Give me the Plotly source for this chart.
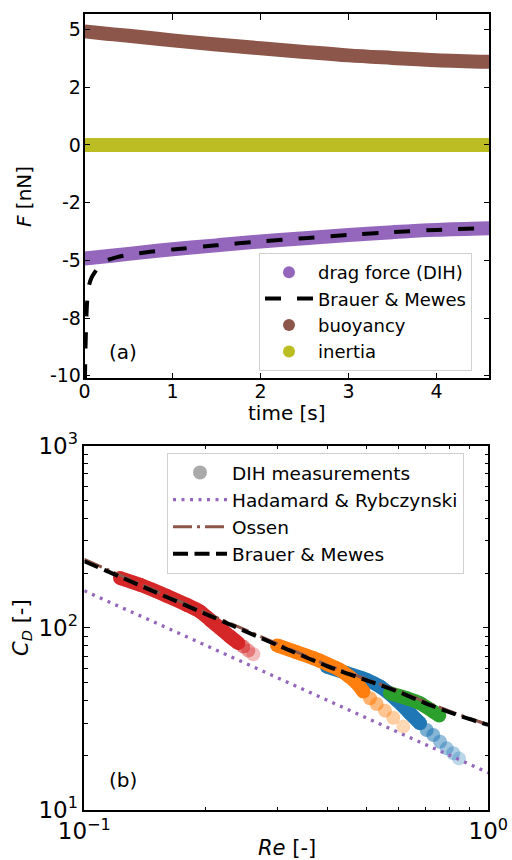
import plotly.graph_objects as go

# ---------------- Panel (a): forces vs time ----------------
time_s = [0.0, 0.25, 0.5, 1.0, 1.5, 2.0, 2.5, 3.0, 3.5, 4.0, 4.6]
buoyancy_nN = [4.92, 4.82, 4.73, 4.53, 4.35, 4.19, 4.03, 3.88, 3.77, 3.67, 3.60]
drag_nN = [-4.92, -4.82, -4.72, -4.52, -4.35, -4.18, -4.04, -3.90, -3.78, -3.68, -3.61]
inertia_nN = [0.0, 0.0, 0.0, 0.0, 0.0, 0.0, 0.0, 0.0, 0.0, 0.0, 0.0]

bm_time_s = [0.005, 0.01, 0.02, 0.03, 0.05, 0.08, 0.12, 0.18, 0.25, 0.35, 0.5,
             0.75, 1.0, 1.5, 2.0, 2.5, 3.0, 3.5, 4.0, 4.6]
bm_force_nN = [-10.2, -9.0, -7.6, -6.8, -6.1, -5.75, -5.5, -5.2, -5.0, -4.88, -4.76,
               -4.63, -4.53, -4.35, -4.18, -4.04, -3.90, -3.78, -3.68, -3.60]

f_tickvals = [5, 2.5, 0, -2.5, -5, -7.5, -10]
f_ticktext = ["5", "2", "0", "-2", "-5", "-8", "-10"]
t_tickvals = [0, 1, 2, 3, 4]

# ---------------- Panel (b): drag coefficient vs Re ----------------
red_re = [0.1226, 0.1374, 0.160, 0.1793, 0.1934, 0.2047, 0.2168, 0.2294, 0.2406]
red_cd = [187.5, 172.3, 149.9, 133.8, 122.9, 110.7, 99.6, 89.6, 82.4]
red_tail_re = [0.2475, 0.2547, 0.262]
red_tail_cd = [78.9, 75.0, 71.6]

orange_re = [0.300, 0.335, 0.369, 0.400, 0.4295, 0.4525, 0.4725, 0.4906]
orange_cd = [80.1, 73.5, 68.2, 63.2, 58.7, 54.0, 49.7, 44.7]
orange_tail_re = [0.5095, 0.5293, 0.555, 0.582, 0.616]
orange_tail_cd = [41.1, 38.2, 35.1, 32.1, 28.7]

blue_re = [0.398, 0.4462, 0.500, 0.5396, 0.5935, 0.640, 0.6776]
blue_cd = [61.3, 56.4, 51.8, 47.6, 40.2, 34.0, 29.95]
blue_tail_re = [0.704, 0.731, 0.7596, 0.789, 0.819, 0.846]
blue_tail_cd = [27.5, 25.8, 23.7, 21.8, 20.5, 19.2]

green_re = [0.571, 0.628, 0.6776, 0.731, 0.756]
green_cd = [43.8, 41.1, 38.6, 34.7, 33.0]

hr_re = [0.1, 1.0]
hr_cd = [160, 16]
model_re = [0.1, 0.15, 0.2, 0.3, 0.4, 0.5, 0.6, 0.7, 0.8, 0.9, 1.0]
ossen_cd = [238, 160, 121, 82, 62.5, 52.2, 45, 39.2, 35, 31.8, 29.4]
bm_cd = [232, 157, 119, 80.5, 61.5, 51.5, 44.5, 38.5, 34.5, 31.5, 29.3]

re_tickvals = [0.1, 1]
re_ticktext = ["10<sup>\u22121</sup>", "10<sup>0</sup>"]
re_minor = [0.2, 0.3, 0.4, 0.5, 0.6, 0.7, 0.8, 0.9]
cd_tickvals = [10, 100, 1000]
cd_ticktext = ["10<sup>1</sup>", "10<sup>2</sup>", "10<sup>3</sup>"]
cd_minor = [20, 30, 40, 50, 60, 70, 80, 90, 200, 300, 400, 500, 600, 700, 800, 900]

C_PURPLE = "#9467bd"
C_BROWN = "#8c564b"
C_OLIVE = "#bcbd22"
C_BLUE = "#1f77b4"
C_ORANGE = "#ff7f0e"
C_GREEN = "#2ca02c"
C_RED = "#d62728"

W, H = 512, 860
FONT = "DejaVu Sans"

fig = go.Figure()

# ---- panel (a) bands ----
BAND = 14
for name, y, col, rank in [("buoyancy", buoyancy_nN, C_BROWN, 3),
                           ("inertia", inertia_nN, C_OLIVE, 4),
                           ("drag force (DIH)", drag_nN, C_PURPLE, 1)]:
    fig.add_trace(go.Scatter(x=time_s, y=y, mode="lines",
                             line=dict(color=col, width=BAND, shape="spline", smoothing=1.0),
                             showlegend=False, legendgroup=name, xaxis="x", yaxis="y",
                             hoverinfo="skip"))
    fig.add_trace(go.Scatter(x=time_s, y=y, mode="markers",
                             marker=dict(color=col, size=BAND - 2), name=name,
                             legendgroup=name, legendrank=rank, legend="legend",
                             xaxis="x", yaxis="y"))

fig.add_trace(go.Scatter(x=bm_time_s, y=bm_force_nN, mode="lines",
                         line=dict(color="black", width=4, dash="16px,16px",
                                   shape="spline", smoothing=0.6),
                         name="Brauer & Mewes", legendrank=2, legend="legend",
                         xaxis="x", yaxis="y"))

# ---- panel (b) measurements ----
def rgba(hexc, a):
    h = hexc.lstrip("#")
    return "rgba(%d,%d,%d,%.2f)" % (int(h[0:2], 16), int(h[2:4], 16), int(h[4:6], 16), a)

MS = 14
groups = [(blue_re, blue_cd, blue_tail_re, blue_tail_cd, C_BLUE),
          (orange_re, orange_cd, orange_tail_re, orange_tail_cd, C_ORANGE),
          (green_re, green_cd, [], [], C_GREEN),
          (red_re, red_cd, red_tail_re, red_tail_cd, C_RED)]
for bre, bcd, tre, tcd, col in groups:
    fig.add_trace(go.Scatter(x=bre, y=bcd, mode="lines+markers",
                             line=dict(color=col, width=MS, shape="spline", smoothing=0.8),
                             marker=dict(color=col, size=MS),
                             showlegend=False, xaxis="x2", yaxis="y2"))
    n = len(tre)
    if n:
        alphas = [0.6 - 0.3 * i / max(n - 1, 1) for i in range(n)]
        fig.add_trace(go.Scatter(x=tre, y=tcd, mode="markers",
                                 marker=dict(color=[rgba(col, a) for a in alphas], size=MS,
                                             line=dict(width=0)),
                                 showlegend=False, xaxis="x2", yaxis="y2"))

# legend proxy for measurements (no data)
fig.add_trace(go.Scatter(x=[None], y=[None], mode="markers",
                         marker=dict(color="#aaaaaa", size=14), name="DIH measurements",
                         legend="legend2", xaxis="x2", yaxis="y2"))

fig.add_trace(go.Scatter(x=hr_re, y=hr_cd, mode="lines",
                         line=dict(color=C_PURPLE, width=3.3, dash="3px,5.5px"),
                         name="Hadamard & Rybczynski", legend="legend2",
                         xaxis="x2", yaxis="y2"))
fig.add_trace(go.Scatter(x=model_re, y=ossen_cd, mode="lines",
                         line=dict(color=C_BROWN, width=3, dash="19px,5px,3px,5px",
                                   shape="spline", smoothing=0.6),
                         name="Ossen", legend="legend2", xaxis="x2", yaxis="y2"))
fig.add_trace(go.Scatter(x=model_re, y=bm_cd, mode="lines",
                         line=dict(color="black", width=4, dash="15px,6.5px",
                                   shape="spline", smoothing=0.6),
                         name="Brauer & Mewes", legend="legend2", xaxis="x2", yaxis="y2"))

axis_common = dict(showline=True, linecolor="black", linewidth=1.5, mirror="ticks",
                   ticks="inside", ticklen=6, tickwidth=1.3, tickcolor="black",
                   showgrid=False, zeroline=False, automargin=False)
minor_common = dict(ticks="inside", ticklen=3.5, tickwidth=1, tickcolor="black",
                    showgrid=False, tickmode="array")

fig.update_layout(
    template="none",
    width=W, height=H, margin=dict(l=0, r=0, t=0, b=0, pad=0, autoexpand=False),
    paper_bgcolor="white", plot_bgcolor="white",
    font=dict(family=FONT, size=19, color="black"),
    xaxis=dict(domain=[84.5 / W, 489.3 / W], anchor="y", range=[0, 4.6],
               tickmode="array", tickvals=t_tickvals, tickfont=dict(size=19),
               ticklabelstandoff=-5, **axis_common),
    yaxis=dict(domain=[1 - 378.3 / H, 1 - 14.3 / H], anchor="x", range=[-10.11, 5.66],
               tickmode="array", tickvals=f_tickvals, ticktext=f_ticktext,
               tickfont=dict(size=19), ticklabelstandoff=-2, **axis_common),
    xaxis2=dict(domain=[84.3 / W, 488.3 / W], anchor="y2", type="log", range=[-1, 0],
                tickmode="array", tickvals=re_tickvals, ticktext=re_ticktext,
                tickfont=dict(size=23),
                minor=dict(tickvals=re_minor, **minor_common), **axis_common),
    yaxis2=dict(domain=[1 - 810 / H, 1 - 445.7 / H], anchor="x2", type="log", range=[1, 3],
                tickmode="array", tickvals=cd_tickvals, ticktext=cd_ticktext,
                tickfont=dict(size=23),
                minor=dict(tickvals=cd_minor, **minor_common), **axis_common),
    legend=dict(x=259 / W, y=1 - 253 / H, xanchor="left", yanchor="top",
                bgcolor="rgba(255,255,255,0.8)", bordercolor="#d0d0d0", borderwidth=1,
                font=dict(size=18, family=FONT, color="black"), itemwidth=48,
                traceorder="normal", tracegroupgap=0),
    legend2=dict(x=167 / W, y=1 - 453 / H, xanchor="left", yanchor="top",
                 bgcolor="rgba(255,255,255,0.8)", bordercolor="#d0d0d0", borderwidth=1,
                 font=dict(size=18.5, family=FONT, color="black"), itemwidth=54,
                 traceorder="normal"),
    annotations=[
        dict(text="time [s]", x=287 / W, y=1 - 413 / H, xref="paper", yref="paper",
             showarrow=False, xanchor="center", yanchor="middle", font=dict(size=20)),
        dict(text="<i>F</i> [nN]", x=24 / W, y=1 - 197 / H, xref="paper", yref="paper",
             showarrow=False, textangle=-90, xanchor="center", yanchor="middle",
             font=dict(size=20)),
        dict(text="<i>Re</i> [-]", x=287 / W, y=1 - 848 / H, xref="paper", yref="paper",
             showarrow=False, xanchor="center", yanchor="middle", font=dict(size=21)),
        dict(text="<i>C</i><sub><i>D</i></sub> [-]", x=22 / W, y=1 - 628 / H,
             xref="paper", yref="paper", showarrow=False, textangle=-90,
             xanchor="center", yanchor="middle", font=dict(size=21)),
        dict(text="(a)", x=123 / W, y=1 - 352 / H, xref="paper", yref="paper",
             showarrow=False, xanchor="center", yanchor="middle", font=dict(size=20)),
        dict(text="(b)", x=123 / W, y=1 - 780 / H, xref="paper", yref="paper",
             showarrow=False, xanchor="center", yanchor="middle", font=dict(size=20)),
    ],
)

fig.write_html("out.html")
